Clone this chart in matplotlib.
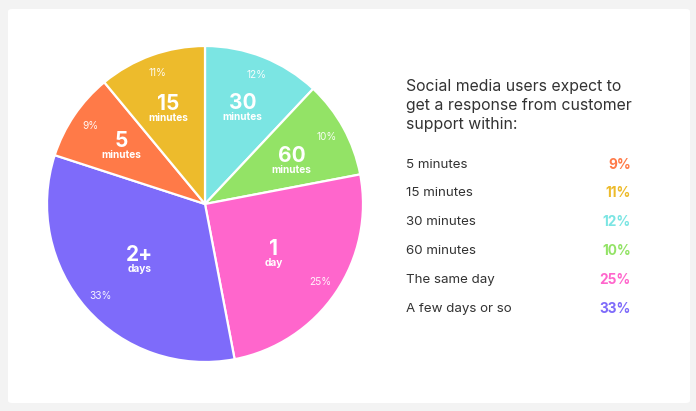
import numpy as np
import matplotlib.pyplot as plt
from matplotlib.patches import FancyBboxPatch

plt.rcParams['font.family'] = ['Inter', 'DejaVu Sans']

# slices, clockwise from 12 o'clock
values = [12, 10, 25, 33, 9, 11]
big_labels = ["30", "60", "1", "2+", "5", "15"]
small_labels = ["minutes", "minutes", "day", "days", "minutes", "minutes"]
colors = ["#7be5e3", "#93e366", "#ff66cc", "#7e6bfa", "#ff7a48", "#edbb2c"]

# legend on the right
legend_names = ["5 minutes", "15 minutes", "30 minutes", "60 minutes",
                "The same day", "A few days or so"]
legend_values = [9, 11, 12, 10, 25, 33]
legend_colors = ["#ff7a48", "#edbb2c", "#7be5e3", "#93e366", "#ff66cc", "#7e6bfa"]
title = "Social media users expect to\nget a response from customer\nsupport within:"

W, H = 696, 411
fig = plt.figure(figsize=(W / 100, H / 100), dpi=100, facecolor="#f3f3f3")

# white card behind everything
card = FancyBboxPatch((8 / W, 8 / H), 682 / W, 394 / H,
                      boxstyle="round,pad=0,rounding_size=0.006",
                      transform=fig.transFigure, facecolor="white",
                      edgecolor="none", zorder=-5)
fig.patches.append(card)

# pie: centre (205, 204) px, radius 158 px
cx, cy, r = 205, 204, 158
ax = fig.add_axes([(cx - r) / W, (H - cy - r) / H, 2 * r / W, 2 * r / H])
ax.set_zorder(2)
ax.patch.set_visible(False)
wedges, _ = ax.pie(values, colors=colors, startangle=90, counterclock=False,
                   wedgeprops=dict(edgecolor="white", linewidth=1.6))
ax.set_xlim(-1.0, 1.0)
ax.set_ylim(-1.0, 1.0)
ax.set_aspect("equal")
ax.axis("off")

# radius of the big number's baseline, and small angle nudges
label_r = [0.645, 0.61, 0.54, 0.55, 0.64, 0.64]
label_da = [0, -3, -2.5, 0, 0, 1.5]
for w, big, small, v, lr, da in zip(wedges, big_labels, small_labels,
                                    values, label_r, label_da):
    mid = (w.theta1 + w.theta2) / 2
    a = np.deg2rad(mid + da)
    x, y = lr * np.cos(a), lr * np.sin(a)
    ax.text(x, y, big, ha="center", va="baseline", color="white",
            fontsize=15, fontweight="bold")
    ax.text(x, y - 0.018, small, ha="center", va="top", color="white",
            fontsize=7.3, fontweight="bold")
    p = np.deg2rad(mid)
    ax.text(0.88 * np.cos(p), 0.88 * np.sin(p), f"{v}%", ha="center",
            va="center", color="white", fontsize=7.3, alpha=0.92)

# right-hand text block
tx = 406 / W
fig.text(tx, 1 - 79 / H, title, ha="left", va="top", fontsize=11.4,
         color="#333333", linespacing=1.32)

row_y0, row_dy = 164.5, 28.8
for i, (name, v, c) in enumerate(zip(legend_names, legend_values, legend_colors)):
    yy = 1 - (row_y0 + i * row_dy) / H
    fig.text(tx, yy, name, ha="left", va="center", fontsize=9.6,
             color="#333333")
    fig.text(631 / W, yy, f"{v}%", ha="right", va="center", fontsize=9.8,
             color=c, fontweight="bold")

fig.savefig("out.png", dpi=100, facecolor=fig.get_facecolor())
